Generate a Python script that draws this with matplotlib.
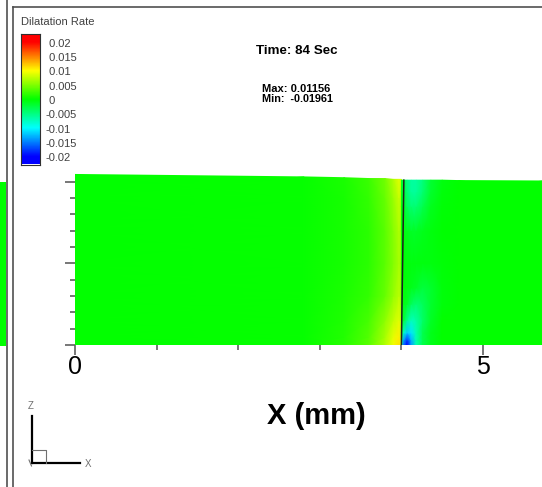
import numpy as np
import matplotlib
matplotlib.use("Agg")
import matplotlib.pyplot as plt
from matplotlib.colors import LinearSegmentedColormap
from matplotlib.lines import Line2D
from matplotlib.patches import Rectangle

plt.rcParams['font.family'] = ['Liberation Sans', 'DejaVu Sans']

W, H = 542, 487

# sample nodes of the dilatation-rate field, left of the x=4 mm line
x_left = [0.0, 2.8, 3.3, 3.6, 3.8, 3.9, 3.97, 4.0]
z_left = [0.0, 0.1, 0.3, 0.6, 1.0, 1.4, 1.8]
top_left = [2.09, 2.06, 2.05, 2.04, 2.04, 2.03, 2.03, 2.03]
rate_left = [
    [0, 0.0003, 0.0015, 0.0035, 0.0070, 0.0095, 0.0110, 0.0090],
    [0, 0.0003, 0.0014, 0.0032, 0.0065, 0.0090, 0.0105, 0.0085],
    [0, 0.0003, 0.0012, 0.0027, 0.0055, 0.0075, 0.0088, 0.0075],
    [0, 0.0002, 0.0010, 0.0020, 0.0040, 0.0058, 0.0072, 0.0065],
    [0, 0.0002, 0.0008, 0.0017, 0.0035, 0.0050, 0.0065, 0.0060],
    [0, 0.0002, 0.0008, 0.0017, 0.0035, 0.0052, 0.0068, 0.0060],
    [0, 0.0002, 0.0009, 0.0020, 0.0040, 0.0060, 0.0078, 0.0070],
    [0, 0.0002, 0.0010, 0.0022, 0.0045, 0.0068, 0.0088, 0.0080],
]

# right of the line
x_right = [4.0, 4.03, 4.07, 4.12, 4.18, 4.26, 4.36, 4.5, 4.7, 5.73]
z_right = [0.0, 0.06, 0.15, 0.3, 0.5, 0.7, 1.0, 1.4, 1.7, 1.88]
top_right = [2.02, 2.02, 2.02, 2.02, 2.02, 2.02, 2.02, 2.02, 2.015, 2.01]
rate_right = [
    [-0.0080, -0.0160, -0.0196, -0.0140, -0.0070, -0.0030, -0.0010, 0, 0, 0],
    [-0.0060, -0.0140, -0.0180, -0.0130, -0.0070, -0.0030, -0.0010, 0, 0, 0],
    [-0.0020, -0.0080, -0.0120, -0.0110, -0.0070, -0.0030, -0.0010, 0, 0, 0],
    [-0.0008, -0.0025, -0.0055, -0.0075, -0.0065, -0.0040, -0.0015, 0, 0, 0],
    [-0.0003, -0.0008, -0.0015, -0.0035, -0.0045, -0.0035, -0.0018, -0.0004, 0, 0],
    [0, -0.0003, -0.0006, -0.0010, -0.0015, -0.0025, -0.0018, -0.0004, 0, 0],
    [0, -0.0002, -0.0004, -0.0006, -0.0006, -0.0006, -0.0005, -0.0002, 0, 0],
    [0, -0.0005, -0.0010, -0.0015, -0.0015, -0.0010, -0.0005, -0.0001, 0, 0],
    [-0.0003, -0.0015, -0.0035, -0.0045, -0.0045, -0.0030, -0.0012, -0.0003, 0, 0],
    [-0.0008, -0.0025, -0.0045, -0.0060, -0.0060, -0.0045, -0.0018, -0.0004, 0, 0],
    [-0.0010, -0.0030, -0.0050, -0.0062, -0.0062, -0.0048, -0.0020, -0.0005, 0, 0],
]

line_x = [4.0, 4.03]
line_z = [0.0, 2.02]

cbar_ticks = [0.02, 0.015, 0.01, 0.005, 0, -0.005, -0.01, -0.015, -0.02]
cbar_labels = [' 0.02', ' 0.015', ' 0.01', ' 0.005', ' 0', '-0.005', '-0.01', '-0.015', '-0.02']
x_major = [0, 5]
x_minor = [1, 2, 3, 4]
z_major = [0, 1, 2]
z_minor = [0.2, 0.4, 0.6, 0.8, 1.2, 1.4, 1.6, 1.8]

vmin, vmax = -0.02, 0.02
cmap = LinearSegmentedColormap.from_list(
    'tec', ['#0000ff', '#00ffff', '#00ff00', '#ffff00', '#ff0000'])


def fx(px):
    return px / W


def fy(py):
    return 1 - py / H


def block(xs, zs, tops, vals):
    X = np.array([xs] * (len(zs) + 1), dtype=float)
    Z = np.array([[z] * len(xs) for z in zs] + [tops], dtype=float)
    return X, Z, np.array(vals, dtype=float)


fig = plt.figure(figsize=(W / 100, H / 100), dpi=100)

# main field view
ax = fig.add_axes([fx(75), fy(345), fx(542) - fx(75), fy(170) - fy(345)])
for xs, zs, tops, vals in [(x_left, z_left, top_left, rate_left),
                           (x_right, z_right, top_right, rate_right)]:
    X, Z, C = block(xs, zs, tops, vals)
    ax.pcolormesh(X, Z, C, shading='gouraud', cmap=cmap, vmin=vmin, vmax=vmax)
ax.plot(line_x, line_z, color='#202020', lw=1.1)
ax.set_xlim(0, 467 / 81.6)
ax.set_ylim(0, 175 / 81.6)
for s in ax.spines.values():
    s.set_visible(False)
ax.set_xticks(x_major)
ax.set_xticklabels([str(v) for v in x_major])
ax.set_xticks(x_minor, minor=True)
ax.set_yticks(z_major)
ax.set_yticklabels([])
ax.set_yticks(z_minor, minor=True)
ax.tick_params(which='major', length=7.5, width=1.2, color='#606060',
               labelsize=18, pad=0)
ax.tick_params(which='minor', length=3.6, width=1.2, color='#606060')
ax.set_xlabel('X (mm)', fontsize=21, fontweight='bold')
ax.xaxis.set_label_coords((316 - 75) / 467, -(416 - 345) / 175)
ax.xaxis.label.set_va('center')

# colour legend
cax = fig.add_axes([fx(21), fy(164.5), fx(40) - fx(21), fy(34) - fy(164.5)])
lo, hi = -0.0225, 0.023
grad = np.linspace(lo, hi, 256).reshape(-1, 1)
cax.imshow(grad, cmap=cmap, vmin=vmin, vmax=vmax, origin='lower',
           extent=[0, 1, lo, hi], aspect='auto')
cax.set_xlim(0, 1)
cax.set_ylim(lo, hi)
cax.set_xticks([])
cax.yaxis.tick_right()
cax.set_yticks(cbar_ticks)
cax.set_yticklabels(cbar_labels)
cax.tick_params(axis='y', length=0, pad=4, labelsize=8, labelcolor='#404040')
for s in cax.spines.values():
    s.set_color('#303030')
    s.set_linewidth(0.8)

fig.text(fx(21), fy(22), 'Dilatation Rate', fontsize=8, color='#404040',
         ha='left', va='center')
fig.text(fx(297), fy(50.5), 'Time: 84 Sec', fontsize=9.6, fontweight='bold',
         ha='center', va='center')
fig.text(fx(262), fy(89), 'Max: 0.01156', fontsize=8, fontweight='bold',
         ha='left', va='center')
fig.text(fx(262), fy(99.5), 'Min:  -0.01961', fontsize=7.8, fontweight='bold',
         ha='left', va='center')

# neighbouring frame and its border
fig.add_artist(Rectangle((0, fy(345.5)), fx(6), fy(181.5) - fy(345.5),
                         transform=fig.transFigure, color='#00ff00', lw=0))
frame = dict(transform=fig.transFigure, color='#505050', lw=1.2)
fig.add_artist(Line2D([fx(6.8), fx(6.8)], [0, 1], **frame))
fig.add_artist(Line2D([fx(13.3), fx(13.3)], [0, fy(7.3)], **frame))
fig.add_artist(Line2D([fx(13.3), 1], [fy(7.3), fy(7.3)], **frame))

# axis triad
tri = dict(transform=fig.transFigure, color='black', lw=1.6)
fig.add_artist(Line2D([fx(31.5), fx(31.5)], [fy(416), fy(463)], **tri))
fig.add_artist(Line2D([fx(31.5), fx(80)], [fy(463), fy(463)], **tri))
box = dict(transform=fig.transFigure, color='#707070', lw=0.8)
fig.add_artist(Line2D([fx(31.5), fx(45.5), fx(45.5)],
                      [fy(449.5), fy(449.5), fy(463)], **box))
fig.add_artist(Line2D([fx(29), fx(31.5)], [fy(460), fy(466)], **box))
fig.text(fx(31), fy(406), 'Z', fontsize=7, color='#707070', ha='center', va='center')
fig.text(fx(88), fy(464), 'X', fontsize=7, color='#707070', ha='center', va='center')

fig.savefig('out.png', dpi=100)
